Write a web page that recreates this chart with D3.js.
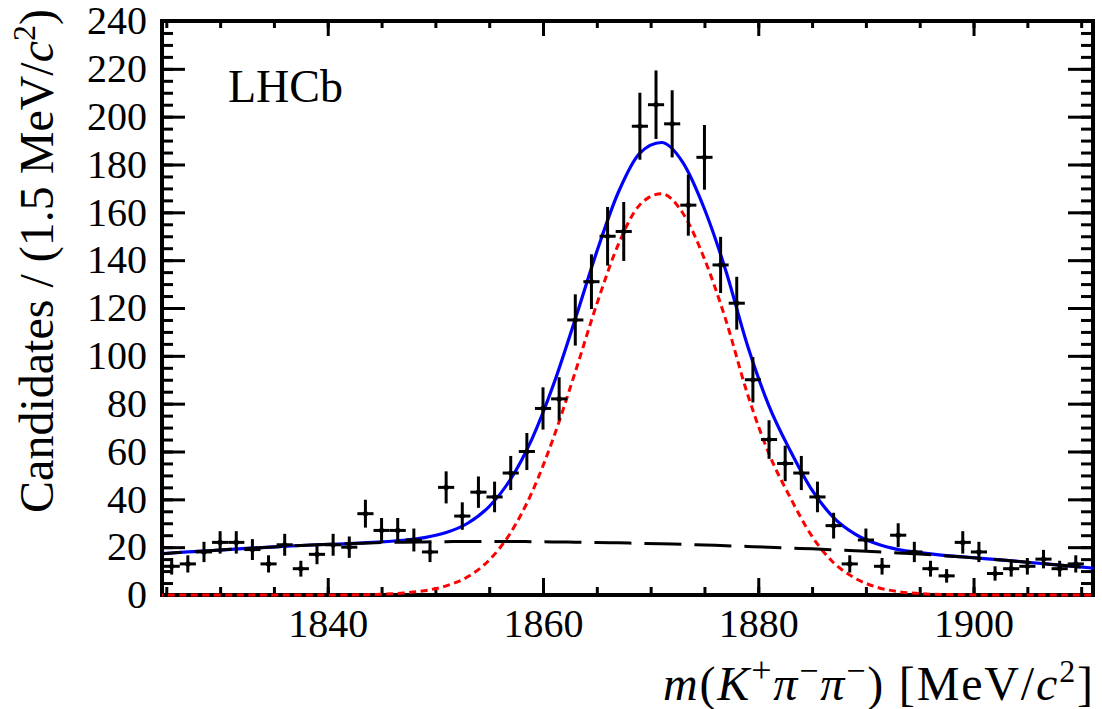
<!DOCTYPE html>
<html>
<head>
<meta charset="utf-8">
<script src="https://cdn.jsdelivr.net/npm/d3@7"></script>
<style>
body { margin: 0; background: #fff; }
svg { display: block; }
text { font-family: "Liberation Serif", "Times New Roman", serif; fill: #000; }
</style>
</head>
<body>
<div id="chart"></div>
<script>
// Mass fit of K+ pi- pi- candidates, LHCb style

// Histogram: bin centres (1.5 MeV/c2 bins) and candidates per bin
const binMass = [1825.5, 1827, 1828.5, 1830, 1831.5, 1833, 1834.5, 1836, 1837.5, 1839,
    1840.5, 1842, 1843.5, 1845, 1846.5, 1848, 1849.5, 1851, 1852.5, 1854,
    1855.5, 1857, 1858.5, 1860, 1861.5, 1863, 1864.5, 1866, 1867.5, 1869,
    1870.5, 1872, 1873.5, 1875, 1876.5, 1878, 1879.5, 1881, 1882.5, 1884,
    1885.5, 1887, 1888.5, 1890, 1891.5, 1893, 1894.5, 1896, 1897.5, 1899,
    1900.5, 1902, 1903.5, 1905, 1906.5, 1908, 1909.5];
const counts = [12, 13, 18, 22, 22, 19, 13, 21, 11, 17,
    21, 20, 34, 27, 27, 23, 18, 45, 33, 43,
    41, 51, 60, 78, 82, 115, 131, 150, 152, 196,
    205, 197, 163, 183, 138, 122, 90, 65, 55, 51,
    41, 29, 13, 23, 12, 25, 18, 11, 8, 22,
    18, 9, 11, 12, 15, 11, 13];

// Fit curves every 2 MeV/c2
const fitMass = [1823, 1825, 1827, 1829, 1831, 1833, 1835, 1837, 1839, 1841,
    1843, 1845, 1847, 1849, 1851, 1853, 1855, 1857, 1859, 1861,
    1863, 1865, 1867, 1869, 1871, 1873, 1875, 1877, 1879, 1881,
    1883, 1885, 1887, 1889, 1891, 1893, 1895, 1897, 1899, 1901,
    1903, 1905, 1907, 1909, 1911, 1913];
const fitTotal = [16.8, 17.4, 18.0, 18.5, 19.1, 19.6, 20.1, 20.6, 21.0, 21.3,
    21.7, 22.2, 22.9, 24.0, 26.1, 30.0, 37.0, 48.5, 65.5, 88.3,
    115.4, 143.6, 168.4, 184.8, 189.2, 180.8, 161.4, 135.4, 104.3, 79.0,
    60.1, 43.8, 32.4, 25.5, 21.4, 19.0, 17.7, 16.7, 16.0, 15.2,
    14.5, 13.7, 12.9, 12.1, 11.3, 10.4];
const fitSignal = [0, 0, 0, 0, 0, 0, 0, 0, 0, 0,
    0.1, 0.3, 0.8, 1.8, 3.8, 7.6, 14.6, 26.1, 43.2, 66.1,
    93.3, 121.7, 146.6, 163.2, 167.8, 159.6, 140.5, 114.8, 84.0, 59.0,
    40.5, 24.5, 13.5, 7.0, 3.3, 1.4, 0.6, 0.2, 0.1, 0,
    0, 0, 0, 0, 0, 0];
const fitBackground = [16.8, 17.4, 18.0, 18.5, 19.1, 19.6, 20.1, 20.6, 21.0, 21.3,
    21.6, 21.9, 22.1, 22.2, 22.3, 22.4, 22.4, 22.4, 22.3, 22.2,
    22.1, 21.9, 21.8, 21.6, 21.4, 21.2, 20.9, 20.6, 20.3, 20.0,
    19.6, 19.3, 18.9, 18.5, 18.1, 17.6, 17.1, 16.5, 15.9, 15.2,
    14.5, 13.7, 12.9, 12.1, 11.3, 10.4];

const xTicks = [1840, 1860, 1880, 1900];
const yTicks = [0, 20, 40, 60, 80, 100, 120, 140, 160, 180, 200, 220, 240];
const binWidth = 1.5;

// Chart size
let margin = {top: 21, right: 9, bottom: 114, left: 162},
    width = 1102 - margin.left - margin.right,
    height = 709 - margin.top - margin.bottom;

let x = d3.scaleLinear().domain([1824.6, 1911.1]).range([0, width]);
let y = d3.scaleLinear().domain([0, 240]).range([height, 0]);

let svg = d3.select("#chart").append("svg")
    .attr("width", 1102)
    .attr("height", 709);

let g = svg.append("g")
    .attr("transform", `translate(${margin.left}, ${margin.top})`);

// minor ticks every 5
let xMinor = d3.range(1825, 1911, 5);
let yMinor = d3.range(0, 241, 5);

function styleAxis(sel) {
    sel.select(".domain").remove();
    sel.selectAll("line").attr("stroke", "#000").attr("stroke-width", 3);
    sel.attr("font-size", 40).attr("font-family", "Liberation Serif, Times New Roman, serif");
    sel.selectAll("text").attr("fill", "#000");
}

// bottom
g.append("g").attr("transform", `translate(0,${height})`)
    .call(d3.axisBottom(x).tickValues(xMinor).tickSize(-8).tickFormat(""))
    .call(styleAxis);
g.append("g").attr("transform", `translate(0,${height})`)
    .call(d3.axisBottom(x).tickValues(xTicks).tickSize(-17).tickPadding(14).tickFormat(d3.format("d")))
    .call(styleAxis);
// top
g.append("g")
    .call(d3.axisTop(x).tickValues(xMinor).tickSize(-7).tickFormat(""))
    .call(styleAxis);
g.append("g")
    .call(d3.axisTop(x).tickValues(xTicks).tickSize(-15).tickFormat(""))
    .call(styleAxis);
// left
g.append("g")
    .call(d3.axisLeft(y).tickValues(yMinor).tickSize(-11).tickFormat(""))
    .call(styleAxis);
g.append("g")
    .call(d3.axisLeft(y).tickValues(yTicks).tickSize(-23).tickPadding(15))
    .call(styleAxis);
// right
g.append("g").attr("transform", `translate(${width},0)`)
    .call(d3.axisRight(y).tickValues(yMinor).tickSize(-12).tickFormat(""))
    .call(styleAxis);
g.append("g").attr("transform", `translate(${width},0)`)
    .call(d3.axisRight(y).tickValues(yTicks).tickSize(-25).tickFormat(""))
    .call(styleAxis);

// frame
g.append("rect")
    .attr("width", width)
    .attr("height", height)
    .attr("fill", "none")
    .attr("stroke", "#000")
    .attr("stroke-width", 4);

// clip the curves to the frame (a bit of room below so the zero line shows)
svg.append("clipPath").attr("id", "plotclip")
    .append("rect")
    .attr("x", 0).attr("y", 0)
    .attr("width", width).attr("height", height + 4);

let curves = g.append("g").attr("clip-path", "url(#plotclip)");

function fitLine(values) {
    return d3.line()
        .x((d, i) => x(fitMass[i]))
        .y(d => y(d))
        .curve(d3.curveMonotoneX)(values);
}

curves.append("path")
    .attr("d", fitLine(fitTotal))
    .attr("fill", "none")
    .attr("stroke", "#0000ff")
    .attr("stroke-width", 3.2);

curves.append("path")
    .attr("d", fitLine(fitSignal))
    .attr("fill", "none")
    .attr("stroke", "#ff0000")
    .attr("stroke-width", 3)
    .attr("stroke-dasharray", "7,4.5");

curves.append("path")
    .attr("d", fitLine(fitBackground))
    .attr("fill", "none")
    .attr("stroke", "#000")
    .attr("stroke-width", 3)
    .attr("stroke-dasharray", "37,13");

// data points with sqrt(N) errors
let pts = g.append("g").selectAll("g")
    .data(counts)
    .enter().append("g");

pts.append("line")
    .attr("x1", (d, i) => x(binMass[i]))
    .attr("x2", (d, i) => x(binMass[i]))
    .attr("y1", d => y(d + Math.sqrt(d)))
    .attr("y2", d => y(d - Math.sqrt(d)))
    .attr("stroke", "#000")
    .attr("stroke-width", 3);

pts.append("line")
    .attr("x1", (d, i) => x(binMass[i] - binWidth / 2))
    .attr("x2", (d, i) => x(binMass[i] + binWidth / 2))
    .attr("y1", d => y(d))
    .attr("y2", d => y(d))
    .attr("stroke", "#000")
    .attr("stroke-width", 3);

pts.append("circle")
    .attr("cx", (d, i) => x(binMass[i]))
    .attr("cy", d => y(d))
    .attr("r", 2.6)
    .attr("fill", "#000");

// LHCb label
svg.append("text")
    .attr("x", 228)
    .attr("y", 102)
    .attr("font-size", 46)
    .text("LHCb");

// y title
let ytitle = svg.append("text")
    .attr("transform", "translate(53, 9) rotate(-90)")
    .attr("text-anchor", "end")
    .attr("font-size", 48);
ytitle.append("tspan").text("Candidates / (1.5 MeV/");
ytitle.append("tspan").attr("font-style", "italic").text("c");
ytitle.append("tspan").attr("font-size", 32).attr("dy", -18).text("2");
ytitle.append("tspan").attr("dy", 18).text(")");

// x title
let xtitle = svg.append("text")
    .attr("x", 663)
    .attr("y", 700)
    .attr("textLength", 430)
    .attr("lengthAdjust", "spacing")
    .attr("font-size", 48);
xtitle.append("tspan").attr("font-style", "italic").text("m");
xtitle.append("tspan").text("(");
xtitle.append("tspan").attr("font-style", "italic").text("K");
xtitle.append("tspan").attr("font-size", 36).attr("dy", -18).text("+");
xtitle.append("tspan").attr("font-style", "italic").attr("dy", 18).text("π");
xtitle.append("tspan").attr("font-size", 34).attr("dy", -18).text("−");
xtitle.append("tspan").attr("font-style", "italic").attr("dy", 18).text("π");
xtitle.append("tspan").attr("font-size", 34).attr("dy", -18).text("−");
xtitle.append("tspan").attr("dy", 18).text(") [MeV/");
xtitle.append("tspan").attr("font-style", "italic").text("c");
xtitle.append("tspan").attr("font-size", 32).attr("dy", -18).text("2");
xtitle.append("tspan").attr("dy", 18).text("]");
</script>
</body>
</html>
